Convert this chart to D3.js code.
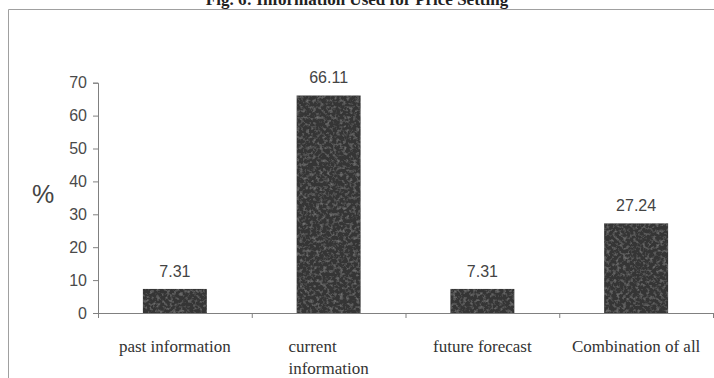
<!DOCTYPE html>
<html>
<head>
<meta charset="utf-8">
<script src="https://cdn.jsdelivr.net/npm/d3@7"></script>
<style>
  html, body { margin: 0; padding: 0; background: #fff; }
  svg { display: block; }
</style>
</head>
<body>
<svg id="chart" width="714" height="378"></svg>
<script>
// Share of respondents by the information used for price setting
const categories = ["past information", "current\ninformation", "future forecast", "Combination of all"];
const shares = [7.31, 66.11, 7.31, 27.24];
const yTicks = [0, 10, 20, 30, 40, 50, 60, 70];
const title = "Fig. 6: Information Used for Price Setting";

const svg = d3.select("#chart");
const W = 714, H = 378;

// soft mottled fill for the bars
const defs = svg.append("defs");
const f = defs.append("filter").attr("id", "grain")
  .attr("x", 0).attr("y", 0).attr("width", 1).attr("height", 1);
f.append("feTurbulence").attr("type", "fractalNoise")
  .attr("baseFrequency", 0.3).attr("numOctaves", 3).attr("seed", 7).attr("result", "n");
f.append("feColorMatrix").attr("in", "n").attr("type", "matrix")
  .attr("values", "0 0 0 0 0.5  0 0 0 0 0.5  0 0 0 0 0.5  0.7 0 0 0 -0.33")
  .attr("result", "g");
f.append("feGaussianBlur").attr("in", "g").attr("stdDeviation", 0.4).attr("result", "gb");
f.append("feComposite").attr("in", "gb").attr("in2", "SourceGraphic")
  .attr("operator", "in").attr("result", "gi");
const m = f.append("feMerge");
m.append("feMergeNode").attr("in", "SourceGraphic");
m.append("feMergeNode").attr("in", "gi");

// title (sits partly above the frame)
svg.append("text")
  .attr("x", 357).attr("y", 5)
  .attr("text-anchor", "middle")
  .attr("font-family", "'Liberation Serif', 'Times New Roman', serif")
  .attr("font-weight", "bold")
  .attr("font-size", 17)
  .attr("fill", "#222")
  .text(title);

// frame
svg.append("path")
  .attr("d", `M8.5,${H} V9.5 H${W}`)
  .attr("fill", "none")
  .attr("stroke", "#a0a0a0")
  .attr("stroke-width", 1);

const x = d3.scaleBand()
  .domain(categories)
  .range([98, 713])
  .paddingInner(0.584)
  .paddingOuter(0.292);

const y = d3.scaleLinear()
  .domain([0, 70])
  .range([313, 82.7]);

const axisColor = "#808080";

// y axis
const yAxis = svg.append("g")
  .attr("transform", "translate(98,0)")
  .call(d3.axisLeft(y).tickValues(yTicks).tickSize(5).tickPadding(6));
yAxis.select(".domain").attr("stroke", axisColor);
yAxis.selectAll(".tick line").attr("stroke", axisColor);
yAxis.selectAll(".tick text")
  .attr("font-family", "'Liberation Sans', Arial, sans-serif")
  .attr("font-size", 16)
  .attr("fill", "#4a4a4a");

// bars
svg.append("g").selectAll("rect")
  .data(categories)
  .join("rect")
  .attr("x", d => x(d))
  .attr("y", (d, i) => y(shares[i]))
  .attr("width", x.bandwidth())
  .attr("height", (d, i) => y(0) - y(shares[i]))
  .attr("fill", "#363636")
  .attr("filter", "url(#grain)");

// x axis with ticks on category boundaries
const step = x.step();
const bounds = d3.range(categories.length + 1).map(i => 98 + i * step);
const xa = svg.append("g");
xa.append("line")
  .attr("x1", 98).attr("x2", 713)
  .attr("y1", y(0) + 0.5).attr("y2", y(0) + 0.5)
  .attr("stroke", axisColor);
xa.selectAll("line.tk")
  .data(bounds)
  .join("line")
  .attr("class", "tk")
  .attr("x1", d => d + 0.5).attr("x2", d => d + 0.5)
  .attr("y1", y(0)).attr("y2", y(0) + 5)
  .attr("stroke", axisColor);

// value labels
svg.append("g").selectAll("text")
  .data(categories)
  .join("text")
  .attr("x", d => x(d) + x.bandwidth() / 2)
  .attr("y", (d, i) => y(shares[i]) - 12)
  .attr("text-anchor", "middle")
  .attr("font-family", "'Liberation Sans', Arial, sans-serif")
  .attr("font-size", 16)
  .attr("fill", "#444")
  .text((d, i) => shares[i].toFixed(2));

// category labels, wrapped lines left-aligned within a centred block
const catG = svg.append("g");
categories.forEach(c => {
  const lines = c.split("\n");
  const cx = x(c) + x.bandwidth() / 2;
  const t = catG.append("text")
    .attr("font-family", "'Liberation Serif', 'Times New Roman', serif")
    .attr("font-size", 17)
    .attr("fill", "#333");
  const spans = lines.map((ln, i) => t.append("tspan").attr("y", 352 + i * 22).text(ln));
  const widths = spans.map(s => s.node().getComputedTextLength());
  const maxW = d3.max(widths);
  spans.forEach(s => s.attr("x", cx - maxW / 2));
});

// y axis title
svg.append("text")
  .attr("x", 43).attr("y", 194)
  .attr("text-anchor", "middle")
  .attr("dominant-baseline", "central")
  .attr("font-family", "'Liberation Sans', Arial, sans-serif")
  .attr("font-size", 25)
  .attr("fill", "#444")
  .text("%");
</script>
</body>
</html>
